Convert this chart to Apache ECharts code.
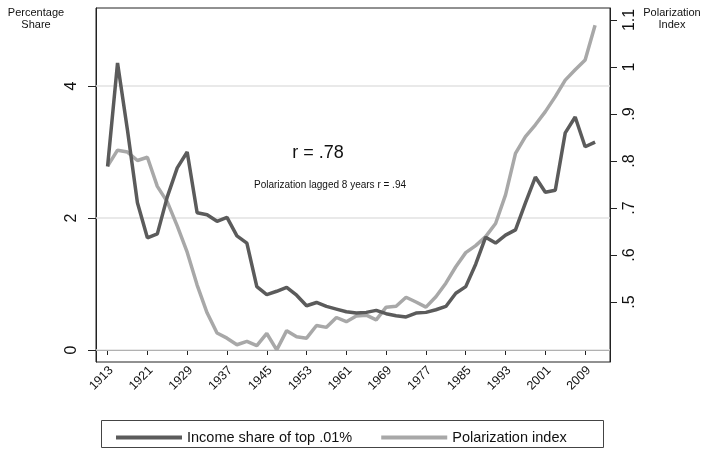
<!DOCTYPE html>
<html>
<head>
<meta charset="utf-8">
<script src="https://cdn.jsdelivr.net/npm/echarts@6/dist/echarts.min.js"></script>
<style>
html,body{margin:0;padding:0;background:#fff;}
#chart{width:703px;height:452px;}
</style>
</head>
<body>
<div id="chart"></div>
<script>
// ---- data ----
const years = [1913,1915,1917,1919,1921,1923,1925,1927,1929,1931,1933,1935,1937,1939,1941,1943,1945,1947,1949,1951,1953,1955,1957,1959,1961,1963,1965,1967,1969,1971,1973,1975,1977,1979,1981,1983,1985,1987,1989,1991,1993,1995,1997,1999,2001,2003,2005,2007,2009,2011];
const incomeShare = [2.78,4.35,3.33,2.23,1.70,1.76,2.32,2.76,3.00,2.08,2.05,1.95,2.01,1.73,1.62,0.96,0.84,0.89,0.95,0.83,0.67,0.72,0.66,0.62,0.58,0.56,0.57,0.60,0.55,0.52,0.50,0.56,0.57,0.61,0.66,0.86,0.96,1.30,1.71,1.62,1.74,1.82,2.23,2.62,2.39,2.42,3.29,3.53,3.08,3.15];
const polarization = [0.789,0.823,0.819,0.801,0.808,0.746,0.713,0.662,0.606,0.536,0.477,0.434,0.423,0.409,0.416,0.407,0.433,0.398,0.439,0.426,0.423,0.450,0.446,0.467,0.458,0.470,0.472,0.462,0.489,0.491,0.510,0.500,0.489,0.511,0.540,0.575,0.605,0.620,0.639,0.667,0.728,0.816,0.852,0.877,0.905,0.937,0.972,0.994,1.015,1.089];
const xTicks = [1913,1921,1929,1937,1945,1953,1961,1969,1977,1985,1993,2001,2009];
const leftTicks = [0,2,4];
const rightTicks = [0.5,0.6,0.7,0.8,0.9,1.0,1.1];
const seriesNames = ['Income share of top .01%','Polarization index'];

const FONT = '"Liberation Sans", Arial, Helvetica, sans-serif';
const chart = echarts.init(document.getElementById('chart'), null, {renderer:'canvas'});

function fmtRight(v){
  const s = String(Math.round(v*10)/10);
  return s.startsWith('0.') ? s.slice(1) : s;
}

chart.setOption({
  animation:false,
  backgroundColor:'#ffffff',
  textStyle:{fontFamily:FONT},
  grid:{left:96,right:93,top:8,bottom:90,show:true,borderColor:'#222',borderWidth:1,backgroundColor:'#fff'},
  xAxis:{
    type:'value',min:1910.67,max:2014.0,
    axisLine:{show:true,lineStyle:{color:'#222',width:1}},
    axisTick:{show:true,length:5,customValues:xTicks,lineStyle:{color:'#222'}},
    axisLabel:{customValues:xTicks,rotate:45,fontSize:12.5,color:'#111',margin:10,padding:[0,-5,0,0],fontFamily:FONT,formatter:v=>String(v)},
    splitLine:{show:false}
  },
  yAxis:[{
    type:'value',position:'left',min:-0.182,max:5.182,
    axisLine:{show:true,lineStyle:{color:'#222'}},
    axisTick:{show:true,length:8,customValues:leftTicks,lineStyle:{color:'#222'}},
    axisLabel:{customValues:leftTicks,rotate:90,fontSize:16,color:'#111',margin:16,fontFamily:FONT,formatter:v=>String(v)},
    splitLine:{show:false}
  },{
    type:'value',position:'right',min:0.3723,max:1.1255,
    axisLine:{show:true,lineStyle:{color:'#222'}},
    axisTick:{show:true,length:7,customValues:rightTicks,lineStyle:{color:'#222'}},
    axisLabel:{customValues:rightTicks,rotate:90,fontSize:16,color:'#111',margin:12,fontFamily:FONT,formatter:fmtRight},
    splitLine:{show:false}
  }],
  legend:{
    data:seriesNames,left:111,top:425,icon:'rect',itemWidth:66,itemHeight:4,itemGap:29,
    textStyle:{fontSize:14.5,color:'#111',fontFamily:FONT},
    selectedMode:false
  },
  graphic:[
    {type:'rect',shape:{x:101.5,y:420.5,width:502,height:27},style:{fill:'none',stroke:'#444',lineWidth:1},silent:true},
    {type:'text',style:{text:'Percentage\nShare',fill:'#111',font:'11px '+FONT,textAlign:'center',lineHeight:12},x:36,y:7,silent:true},
    {type:'text',style:{text:'Polarization\nIndex',fill:'#111',font:'11px '+FONT,textAlign:'center',lineHeight:12},x:672,y:7,silent:true},
    {type:'text',style:{text:'r = .78',fill:'#111',font:'18px '+FONT,textAlign:'center',textVerticalAlign:'middle'},x:318,y:153,silent:true},
    {type:'text',style:{text:'Polarization lagged 8 years r = .94',fill:'#111',font:'10px '+FONT,textAlign:'center',textVerticalAlign:'middle'},x:330,y:185,silent:true}
  ],
  series:[{
    name:seriesNames[0],type:'line',yAxisIndex:0,symbol:'none',z:3,
    data:years.map((y,i)=>[y,incomeShare[i]]),
    lineStyle:{color:'#5b5b5b',width:3.5},itemStyle:{color:'#5b5b5b'},
    markLine:{silent:true,symbol:'none',z:1,label:{show:false},
      lineStyle:{color:'#e2e2e2',width:1.5,type:'solid'},
      data:leftTicks.map(v=>({yAxis:v}))}
  },{
    name:seriesNames[1],type:'line',yAxisIndex:1,symbol:'none',z:2,
    data:years.map((y,i)=>[y,polarization[i]]),
    lineStyle:{color:'#a8a8a8',width:3.5},itemStyle:{color:'#a8a8a8'}
  }]
});
</script>
</body>
</html>
